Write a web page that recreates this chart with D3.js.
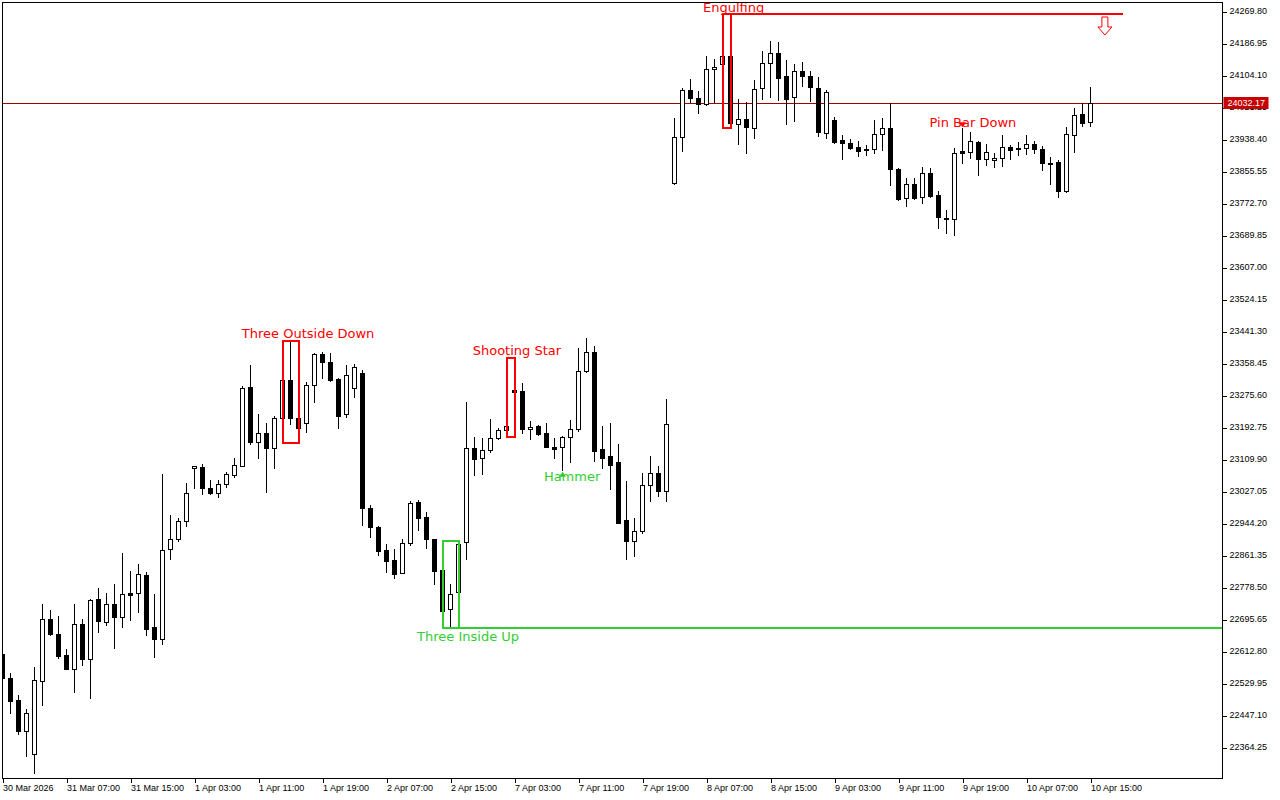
<!DOCTYPE html>
<html><head><meta charset="utf-8">
<script src="https://cdn.jsdelivr.net/npm/d3@7"></script>
<style>body{margin:0;background:#fff}svg{display:block}</style>
</head><body><svg id="c" width="1280" height="800"></svg>
<script>
// ---- data (hourly candles, index 0..136) ----
const opens=[22604.3,22543.7,22485.9,22406.5,22345.4,22534.3,22694.9,22656.8,22602.4,22567.0,
22682.7,22592.9,22747.4,22688.7,22734.5,22701.6,22762.2,22762.2,22809.6,22674.2,
22644.6,22876.1,22902.0,22948.6,23087.4,23088.4,23034.1,23021.1,23045.2,23068.5,
23092.6,23295.5,23154.7,23176.4,23137.6,23215.3,23313.7,23215.3,23202.3,23300.7,
23381.8,23360.3,23316.3,23225.6,23293.0,23331.8,22982.3,22934.6,22874.3,22848.4,
22815.5,22893.2,22997.8,22960.5,22902.0,22822.5,22720.8,22764.8,22894.2,23137.6,
23111.7,23133.2,23163.5,23185.0,23287.8,23286.0,23186.8,23195.3,23176.4,23141.8,
23140.2,23166.1,23186.8,23338.5,23386.2,23135.8,23117.7,23101.4,22952.0,22898.4,
22924.3,23042.6,23072.9,23027.8,23823.7,23942.8,24065.3,24043.8,24028.2,24118.9,
24132.6,24153.3,23977.2,23990.2,23966.1,24069.7,24134.4,24160.3,24101.5,24046.4,
24115.2,24102.3,24069.7,23953.2,23987.6,23935.8,23927.3,23916.9,23912.5,23911.7,
23950.6,23966.1,23860.0,23784.9,23821.1,23789.0,23849.6,23793.4,23734.6,23730.5,
23907.3,23905.5,23931.9,23885.8,23884.0,23888.4,23918.5,23914.3,23914.3,23924.7,
23911.7,23875.5,23878.1,23803.8,23948.8,24002.4,23983.2];
const highs=[22610.2,22556.6,22498.9,22462.6,22570.6,22734.5,22719.0,22703.4,22617.2,22734.5,
22694.9,22746.7,22775.1,22762.2,22786.3,22865.8,22819.9,22838.1,22816.6,22760.4,
23071.1,22964.9,22956.4,23047.0,23091.8,23097.0,23055.5,23055.5,23075.5,23113.3,
23298.9,23353.3,23225.6,23202.3,23222.0,23334.4,23413.6,23298.9,23310.0,23383.6,
23387.7,23385.1,23318.8,23353.3,23355.9,23340.3,22990.8,22937.2,22889.8,22876.9,
22902.0,23001.2,23003.8,22971.9,22902.8,22830.3,22786.3,22897.6,23256.7,23166.1,
23163.5,23212.7,23189.4,23197.9,23370.6,23305.9,23209.1,23197.9,23202.3,23163.5,
23169.5,23210.9,23396.5,23422.4,23402.5,23195.3,23202.3,23148.0,23053.0,22956.4,
23072.9,23117.7,23091.8,23264.5,23992.0,24069.7,24093.7,24063.5,24153.3,24144.8,
24262.0,24170.6,24042.0,24033.4,24091.2,24166.2,24192.1,24188.8,24142.9,24132.6,
24137.0,24115.2,24098.1,24065.3,23994.6,23948.8,23938.4,23933.2,23922.9,23987.6,
23992.0,24030.8,23862.5,23836.7,23836.7,23865.1,23862.5,23804.5,23754.6,23914.3,
23966.1,23955.7,23933.2,23925.5,23901.4,23948.8,23922.9,23931.4,23948.8,23933.2,
23920.3,23892.6,23884.0,23970.2,24017.9,24030.8,24072.3];
const lows=[22537.7,22453.1,22397.1,22341.7,22296.2,22473.0,22654.2,22595.5,22565.0,22507.4,
22575.8,22490.3,22662.8,22680.1,22621.3,22675.7,22693.1,22714.6,22654.2,22598.0,
22630.1,22850.2,22898.4,22937.2,23035.6,23018.5,23018.5,23012.3,23038.2,23064.1,
23090.5,23148.0,23111.7,23025.2,23085.8,23213.5,23199.8,23154.7,23179.0,23258.3,
23318.8,23313.0,23189.4,23217.9,23269.6,22939.0,22908.7,22861.4,22818.1,22802.6,
22813.5,22887.2,22926.1,22878.7,22785.5,22671.6,22671.6,22746.7,22850.2,23069.3,
23070.3,23127.3,23161.7,23166.1,23176.4,23176.4,23160.9,23172.0,23140.2,23113.3,
23081.4,23101.4,23182.4,23335.9,23105.5,23085.8,23031.5,22943.4,22850.2,22858.8,
22917.5,23001.9,23014.9,23001.2,23821.9,23908.1,24035.0,24006.5,24026.4,24035.0,
24091.2,23978.5,23924.7,23901.4,23940.2,24042.0,24046.4,24038.6,23977.2,23985.8,
24075.6,24037.6,23946.9,23940.2,23929.3,23885.8,23911.7,23894.4,23897.0,23901.4,
23910.7,23819.3,23780.5,23764.9,23782.3,23771.9,23789.0,23707.2,23694.3,23689.9,
23875.5,23888.4,23845.2,23871.1,23865.1,23868.5,23885.8,23897.0,23899.6,23901.4,
23858.2,23821.9,23787.5,23800.4,23904.0,23972.1,23972.1];
const closes=[22542.1,22484.1,22406.5,22451.5,22536.9,22694.9,22656.8,22599.9,22567.0,22682.7,
22592.9,22744.8,22691.2,22734.5,22701.6,22759.6,22758.6,22811.4,22670.5,22644.6,
22874.3,22902.0,22949.4,23021.1,23091.0,23034.1,23021.1,23044.4,23070.3,23093.6,
23293.0,23154.7,23176.4,23137.6,23216.8,23313.7,23215.3,23189.4,23300.7,23381.8,
23360.3,23314.4,23222.0,23326.6,23348.9,22982.3,22934.6,22872.5,22846.6,22811.4,
22891.6,22995.2,22956.4,22902.0,22820.7,22717.1,22759.6,22889.8,23137.6,23109.1,
23133.2,23163.5,23185.0,23196.1,23284.1,23186.8,23192.0,23173.9,23141.8,23135.0,
23166.1,23187.6,23338.5,23386.2,23131.4,23111.7,23094.4,22945.0,22898.4,22923.5,
23042.6,23072.9,23027.8,23199.8,23944.4,24065.3,24045.3,24028.2,24118.9,24125.6,
24153.3,23980.6,23990.2,23968.7,24067.1,24134.4,24160.3,24095.6,24041.2,24115.2,
24102.3,24073.8,23955.7,24060.9,23931.4,23927.3,23915.9,23908.1,23909.9,23950.6,
23966.1,23860.0,23782.3,23821.1,23786.4,23849.6,23791.6,23735.7,23730.5,23901.4,
23902.9,23933.2,23886.6,23904.7,23890.0,23918.5,23909.9,23911.7,23924.7,23911.7,
23875.5,23873.7,23803.8,23950.6,24000.5,23980.6,24032.17];

const xTickIdx=[0,8,16,24,32,40,48,56,64,72,80,88,96,104,112,120,128,136];
const xTickLabels=["30 Mar 2026","31 Mar 07:00","31 Mar 15:00","1 Apr 03:00","1 Apr 11:00","1 Apr 19:00",
"2 Apr 07:00","2 Apr 15:00","7 Apr 03:00","7 Apr 11:00","7 Apr 19:00","8 Apr 07:00","8 Apr 15:00",
"9 Apr 03:00","9 Apr 11:00","9 Apr 19:00","10 Apr 07:00","10 Apr 15:00"];
const yTickValues=[22364.25,22447.10,22529.95,22612.80,22695.65,22778.50,22861.35,22944.20,23027.05,
23109.90,23192.75,23275.60,23358.45,23441.30,23524.15,23607.00,23689.85,23772.70,23855.55,23938.40,
24021.25,24104.10,24186.95,24269.80];
const lastPrice=24032.17;

// pattern boxes
const boxFrom=[90,35,63,55];
const boxTo=[91,37,64,57];
const boxTop=[24262.0,23416.2,23370.6,22897.6];
const boxBottom=[23967.7,23152.1,23166.1,22673.1];
const boxDir=["down","down","down","up"];
// pattern labels
const labelTexts=["Engulfing","Three Outside Down","Shooting Star","Three Inside Up","Hammer","Pin Bar Down"];
const labelIdx=[91.4,38.2,64.3,58.2,71.2,121.3];
const labelPrice=[24268.5,23424.0,23379.2,22638.7,23051.7,23969.5];
const labelDir=["down","down","down","up","up","down"];
// level lines
const levelFrom=[90,55];
const levelTo=[140,null];
const levelPrice=[24262.0,22673.1];
const levelDir=["down","up"];
// markers
const markerIdx=[137.8,120,70];
const markerPrice=[24254.3,23969.0,23077.0];
const markerType=["sellArrow","pinDown","hammerUp"];

// ---- layout ----
const L=2.5,T=2.5,R=1222.5,B=778.5;
const RED="#ff0000",GREEN="#32cd32";
const dirColor=d=>d==="up"?GREEN:RED;

const svg=d3.select("#c");
svg.append("rect").attr("width",1280).attr("height",800).attr("fill","#fff");

const x=d3.scaleLinear().domain([0,1]).range([2.5,10.5]);
const y=d3.scaleLinear().domain([22364.25,24269.80]).range([747,11]);
const py=v=>Math.round(y(v))+0.5;

svg.append("defs").append("clipPath").attr("id","clip")
  .append("rect").attr("x",L+0.5).attr("y",T+0.5).attr("width",R-L-1).attr("height",B-T-1);

const plot=svg.append("g").attr("clip-path","url(#clip)").attr("shape-rendering","crispEdges");

const candles=d3.range(opens.length).map(i=>({i,o:opens[i],h:highs[i],l:lows[i],c:closes[i]}));

// price line
plot.append("line").attr("x1",L).attr("x2",R).attr("y1",py(lastPrice)).attr("y2",py(lastPrice))
  .attr("stroke","#a00000").attr("stroke-width",1);

// levels
levelPrice.forEach((p,k)=>{
  plot.append("line")
    .attr("x1",x(levelFrom[k])).attr("x2",levelTo[k]==null?R:x(levelTo[k]))
    .attr("y1",Math.round(y(p))).attr("y2",Math.round(y(p)))
    .attr("stroke",dirColor(levelDir[k])).attr("stroke-width",2);
});

// wicks
plot.selectAll(".wick").data(candles).join("line").attr("class","wick")
  .attr("x1",d=>x(d.i)).attr("x2",d=>x(d.i))
  .attr("y1",d=>py(d.h)-0.5).attr("y2",d=>py(d.l)+0.5)
  .attr("stroke","#000").attr("stroke-width",1);

// bodies
plot.selectAll(".body").data(candles).join("rect").attr("class","body")
  .attr("x",d=>x(d.i)-2).attr("width",4)
  .attr("y",d=>py(Math.max(d.o,d.c)))
  .attr("height",d=>Math.max(1,py(Math.min(d.o,d.c))-py(Math.max(d.o,d.c))))
  .attr("fill",d=>d.c>=d.o?"#fff":"#000")
  .attr("stroke","#000").attr("stroke-width",1);

// pattern boxes
boxFrom.forEach((f,k)=>{
  const x0=x(f),x1=x(boxTo[k]);
  plot.append("rect").attr("x",x0).attr("width",x1-x0)
    .attr("y",Math.round(y(boxTop[k]))).attr("height",Math.round(y(boxBottom[k]))-Math.round(y(boxTop[k])))
    .attr("fill","none").attr("stroke",dirColor(boxDir[k])).attr("stroke-width",2);
});

// markers
markerIdx.forEach((mi,k)=>{
  const cx=x(mi),ty=y(markerPrice[k]);
  let pts;
  if(markerType[k]==="sellArrow"){
    pts=[[cx-3,ty],[cx+3,ty],[cx+3,ty+10],[cx+7,ty+10],[cx,ty+18],[cx-7,ty+10],[cx-3,ty+10]];
    plot.append("polygon").attr("points",pts.map(p=>p.join(",")).join(" "))
      .attr("fill","#fff").attr("stroke",RED).attr("stroke-width",1).attr("shape-rendering","auto");
  } else if(markerType[k]==="pinDown"){
    pts=[[cx-3.5,ty-5],[cx+3.5,ty-5],[cx,ty]];
    plot.append("polygon").attr("points",pts.map(p=>p.join(",")).join(" "))
      .attr("fill",RED).attr("shape-rendering","auto");
  } else {
    pts=[[cx-3.5,ty+5],[cx+3.5,ty+5],[cx,ty]];
    plot.append("polygon").attr("points",pts.map(p=>p.join(",")).join(" "))
      .attr("fill",GREEN).attr("shape-rendering","auto");
  }
});

// labels
labelTexts.forEach((t,k)=>{
  svg.append("text").attr("x",x(labelIdx[k])).attr("y",y(labelPrice[k]))
    .attr("text-anchor","middle").attr("font-family","DejaVu Sans").attr("font-size",13)
    .attr("fill",dirColor(labelDir[k])).text(t);
});

// frame
svg.append("rect").attr("x",L).attr("y",T).attr("width",R-L).attr("height",B-T)
  .attr("fill","none").attr("stroke","#000").attr("stroke-width",1).attr("shape-rendering","crispEdges");

// right axis
const yAxis=d3.axisRight(y).tickValues(yTickValues).tickFormat(d3.format(".2f")).tickSize(4).tickPadding(3);
const gy=svg.append("g").attr("transform",`translate(${R},0)`).call(yAxis);
gy.select(".domain").remove();
gy.selectAll(".tick line").attr("stroke","#000").attr("shape-rendering","crispEdges")
  .attr("transform","translate(0,0.5)");
gy.selectAll(".tick text").attr("font-family","Liberation Sans").attr("font-size",9).attr("fill","#000");

// bottom axis
const xAxis=d3.axisBottom(x).tickValues(xTickIdx).tickFormat((d,i)=>xTickLabels[i]).tickSize(4).tickPadding(2);
const gx=svg.append("g").attr("transform",`translate(0,${B})`).call(xAxis);
gx.select(".domain").remove();
gx.selectAll(".tick line").attr("stroke","#000").attr("shape-rendering","crispEdges");
gx.selectAll(".tick text").attr("font-family","Liberation Sans").attr("font-size",9).attr("fill","#000")
  .attr("text-anchor","start").attr("x",0);

// last price tag
const lp=Math.round(y(lastPrice));
svg.append("rect").attr("x",R+1).attr("y",lp-6).attr("width",45).attr("height",12).attr("fill","#c80000");
svg.append("text").attr("x",R+5).attr("y",lp).attr("dy","0.35em")
  .attr("font-family","Liberation Sans").attr("font-size",9).attr("fill","#fff").text(lastPrice.toFixed(2));
</script></body></html>
